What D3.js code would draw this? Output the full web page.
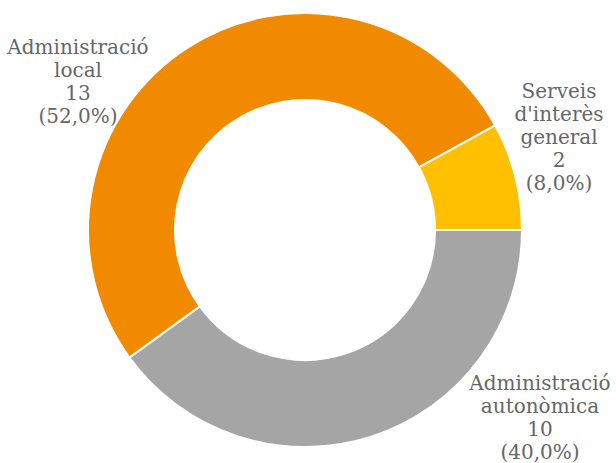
<!DOCTYPE html>
<html>
<head>
<meta charset="utf-8">
<script src="https://cdn.jsdelivr.net/npm/d3@7"></script>
<style>
  html, body { margin: 0; padding: 0; background: #fff; }
  svg { display: block; }
  .lbl { font-family: "DejaVu Serif", serif; font-size: 20px; fill: #666; }
</style>
</head>
<body>
<svg id="chart" width="616" height="463"></svg>
<script>
// Series, drawn clockwise from 3 o'clock
const categories = ["Administració autonòmica", "Administració local", "Serveis d'interès general"];
const labelLines = [["Administració", "autonòmica"], ["Administració", "local"], ["Serveis", "d'interès", "general"]];
const values = [10, 13, 2];
const colors = ["#A5A5A5", "#F28A00", "#FFC000"];

// Label anchor (centre of the text block) per slice
const labelAnchor = [[540, 417], [78, 81], [559, 137]];

const W = 616, H = 463;
const cx = 305, cy = 230, rOuter = 217, rInner = 130;
const svg = d3.select("#chart");
const g = svg.append("g").attr("transform", `translate(${cx},${cy})`);

const total = d3.sum(values);
const pie = d3.pie().sort(null).value(d => d).startAngle(Math.PI / 2).endAngle(Math.PI / 2 + 2 * Math.PI);
const arc = d3.arc().innerRadius(rInner).outerRadius(rOuter);
const arcs = pie(values);

g.selectAll("path.slice")
  .data(arcs)
  .join("path")
  .attr("class", "slice")
  .attr("d", arc)
  .attr("fill", (d, i) => colors[i])
  .attr("stroke", "#fff")
  .attr("stroke-width", 2)
  .attr("stroke-linejoin", "miter");

const fmtPct = v => "(" + (v * 100).toFixed(1).replace(".", ",") + "%)";
const lineH = 23;

categories.forEach((c, i) => {
  const lines = labelLines[i].concat([String(values[i]), fmtPct(values[i] / total)]);
  const [ax, ay] = labelAnchor[i];
  const t = svg.append("text")
    .attr("class", "lbl")
    .attr("text-anchor", "middle");
  const y0 = ay - (lines.length - 1) * lineH / 2;
  lines.forEach((s, k) => {
    t.append("tspan")
      .attr("x", ax)
      .attr("y", y0 + k * lineH)
      .attr("dy", "0.35em")
      .text(s);
  });
});
</script>
</body>
</html>
